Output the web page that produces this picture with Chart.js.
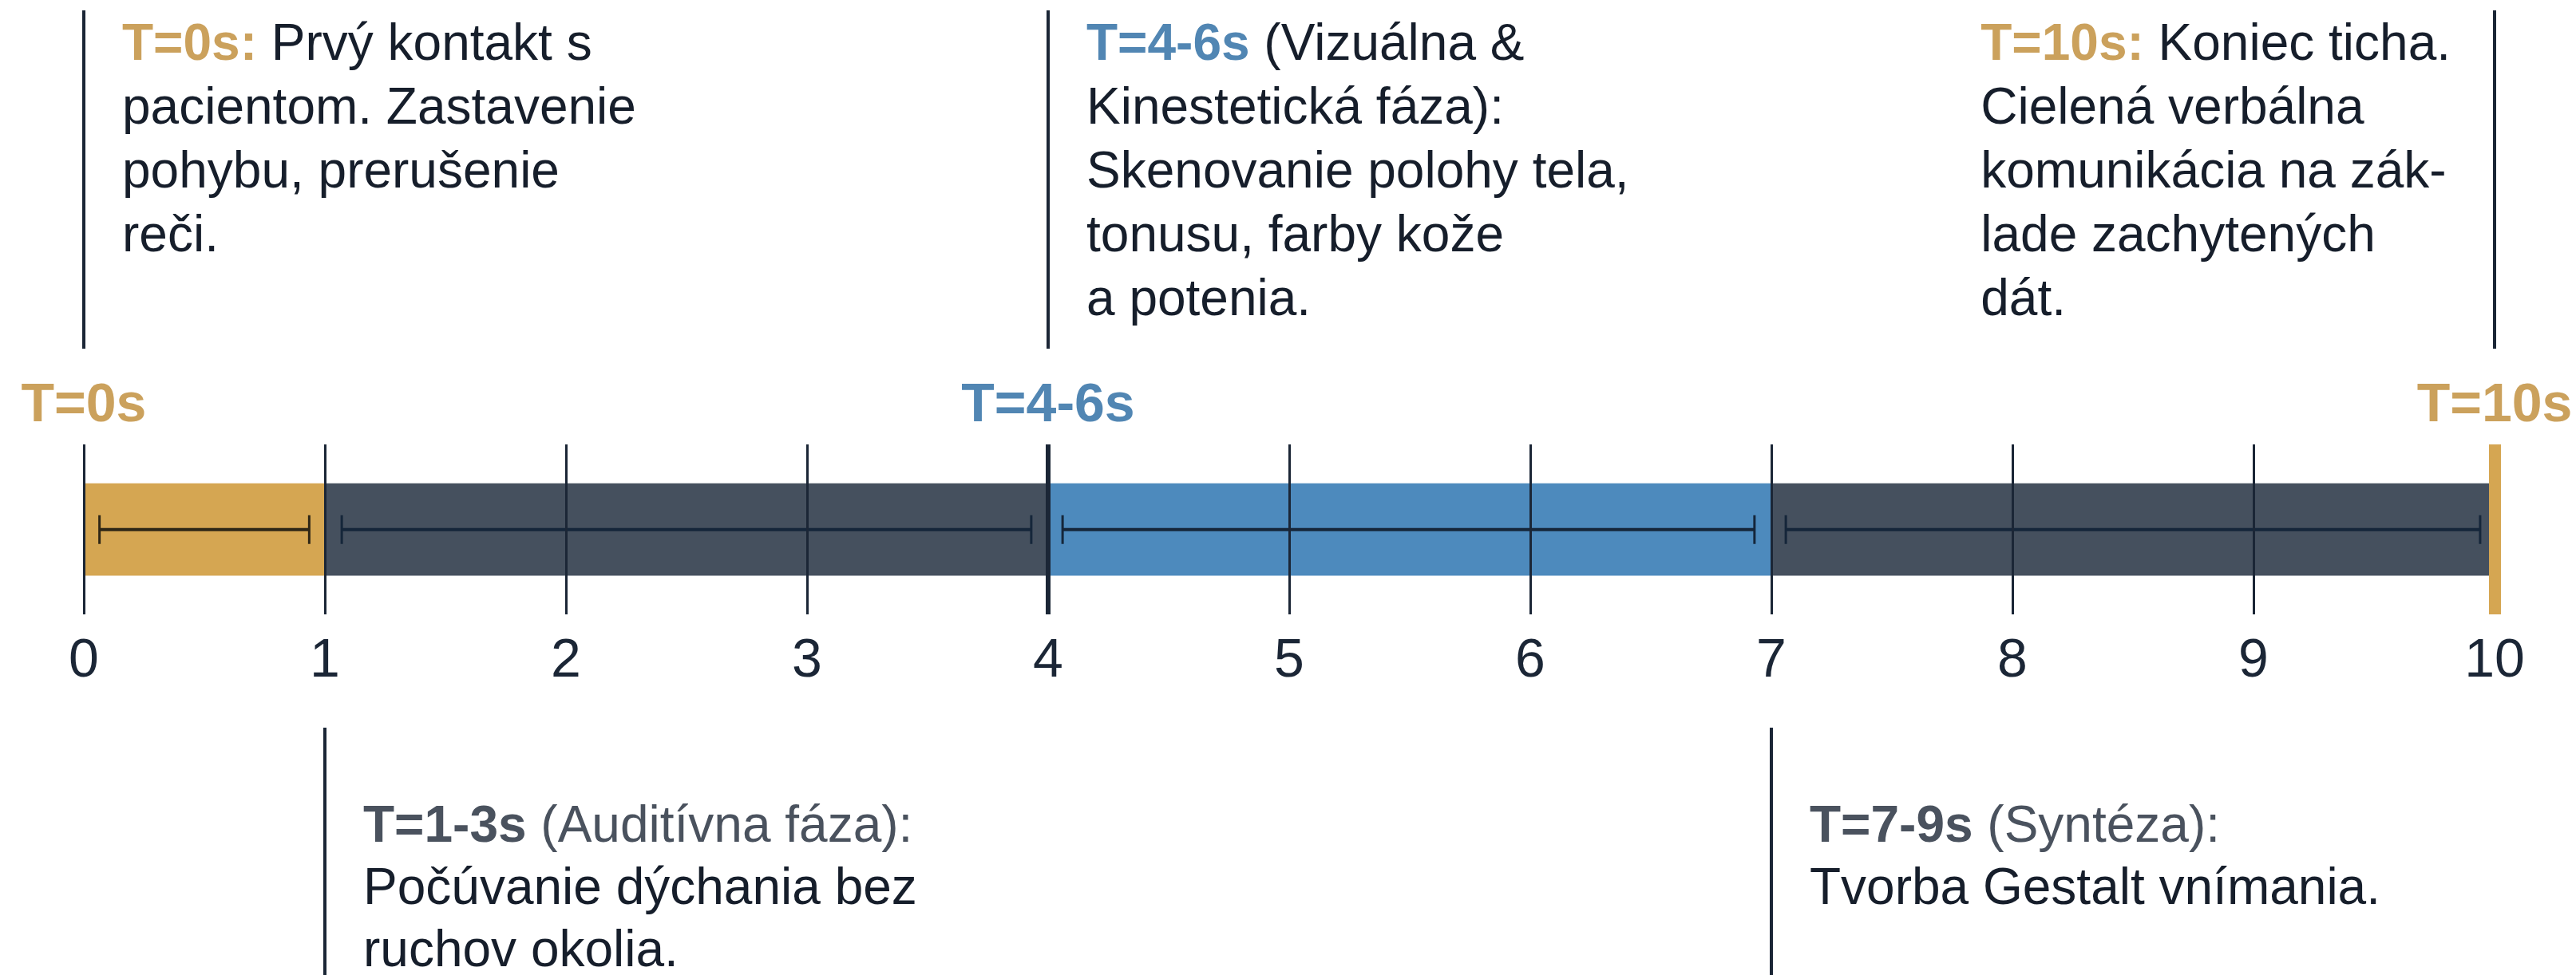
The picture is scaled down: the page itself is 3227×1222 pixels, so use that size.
<!DOCTYPE html>
<html>
<head>
<meta charset="utf-8">
<script src="https://cdn.jsdelivr.net/npm/chart.js@4.4.1/dist/chart.umd.min.js"></script>
<style>
  html, body { margin: 0; padding: 0; background: #ffffff; }
</style>
</head>
<body>
<canvas id="timeline" width="3227" height="1222"></canvas>
<script>
// ---- data ----
const phaseNames = ['T=0s', 'T=1-3s', 'T=4-6s', 'T=7-9s'];
const phaseStart = [0, 1, 4, 7];
const phaseEnd = [1, 4, 7, 10];
// whisker extents inside each phase (seconds)
const rangeStart = [0.065, 1.07, 4.06, 7.06];
const rangeEnd = [0.935, 3.93, 6.93, 9.94];

const tickMin = 0;
const tickMax = 10;

// labels sitting just above the bar
const markerValues = [0, 4, 10];
const markerLabels = ['T=0s', 'T=4-6s', 'T=10s'];

// annotations (top row first, then bottom row)
const noteTimes = [0, 4, 10, 1, 7];
const noteHeads = ['T=0s:', 'T=4-6s', 'T=10s:', 'T=1-3s', 'T=7-9s'];
const noteTails = [' Prvý kontakt s', ' (Vizuálna &', ' Koniec ticha.', ' (Auditívna fáza):', ' (Syntéza):'];
const noteBodies = [
  ['pacientom. Zastavenie', 'pohybu, prerušenie', 'reči.'],
  ['Kinestetická fáza):', 'Skenovanie polohy tela,', 'tonusu, farby kože', 'a potenia.'],
  ['Cielená verbálna', 'komunikácia na zák-', 'lade zachytených', 'dát.'],
  ['Počúvanie dýchania bez', 'ruchov okolia.'],
  ['Tvorba Gestalt vnímania.']
];

// ---- styles ----
const GOLD = '#D5A652';
const GOLD_TEXT = '#CBA15C';
const SLATE = '#45505E';
const BLUE = '#4D8ABD';
const BLUE_TEXT = '#5186B3';
const NAVY = '#1B2636';
const INK = '#161E2B';
const GREY = '#4A525E';
const FONT = "'Liberation Sans', Arial, sans-serif";

const barColors = [GOLD, SLATE, BLUE, SLATE];
const whiskerColors = ['#2E2716', '#15263A', '#15263A', '#15263A'];
const markerColors = [GOLD_TEXT, BLUE_TEXT, GOLD_TEXT];
const noteSide = ['top', 'top', 'top', 'bottom', 'bottom'];
const noteAlign = ['right', 'right', 'left', 'right', 'right']; // which side of the line the text goes
const noteHeadColors = [GOLD_TEXT, BLUE_TEXT, GOLD_TEXT, GREY, GREY];
const noteTailColors = [INK, INK, INK, GREY, GREY];

const ROW = 'faza';

const barSets = phaseStart.map((s, i) => ({
  type: 'bar',
  label: phaseNames[i],
  data: [[s, phaseEnd[i]]],
  backgroundColor: barColors[i],
  barThickness: 115,
  grouped: false,
  order: 2
}));

const whiskerSets = rangeStart.map((s, i) => ({
  type: 'line',
  label: phaseNames[i] + ' rozsah',
  data: [{ x: s, y: ROW }, { x: rangeEnd[i], y: ROW }],
  borderColor: whiskerColors[i],
  borderWidth: 4,
  pointStyle: 'line',
  rotation: 90,
  pointRadius: 18,
  pointBorderWidth: 3,
  pointBorderColor: whiskerColors[i],
  fill: false,
  order: 1
}));

// draws the marker labels, the annotation lines and their text
const notesPlugin = {
  id: 'notes',
  afterDraw(chart) {
    const ctx = chart.ctx;
    const x = chart.scales.x;
    const area = chart.chartArea;
    ctx.save();

    // labels above the bar
    ctx.font = 'bold 68px ' + FONT;
    ctx.textAlign = 'center';
    ctx.textBaseline = 'alphabetic';
    markerValues.forEach((v, i) => {
      ctx.fillStyle = markerColors[i];
      ctx.fillText(markerLabels[i], x.getPixelForValue(v), area.top - 29);
    });

    const bold = 'bold 64px ' + FONT;
    const regular = '64px ' + FONT;
    ctx.textAlign = 'left';

    noteTimes.forEach((t, i) => {
      const px = Math.round(x.getPixelForValue(t));
      const top = noteSide[i] === 'top';
      const y0 = top ? 13 : 912;
      const y1 = top ? 437 : chart.height;
      ctx.strokeStyle = NAVY;
      ctx.lineWidth = 4;
      ctx.beginPath();
      ctx.moveTo(px, y0);
      ctx.lineTo(px, y1);
      ctx.stroke();

      ctx.font = bold;
      const headW = ctx.measureText(noteHeads[i]).width;
      ctx.font = regular;
      let maxW = headW + ctx.measureText(noteTails[i]).width;
      noteBodies[i].forEach(l => { maxW = Math.max(maxW, ctx.measureText(l).width); });

      const left = noteAlign[i] === 'right' ? px + 48 : px - 55 - maxW;
      const base = top ? 75 : 1055;
      const lh = top ? 80 : 78;

      ctx.font = bold;
      ctx.fillStyle = noteHeadColors[i];
      ctx.fillText(noteHeads[i], left, base);
      ctx.font = regular;
      ctx.fillStyle = noteTailColors[i];
      ctx.fillText(noteTails[i], left + headW, base);
      ctx.fillStyle = INK;
      noteBodies[i].forEach((l, k) => ctx.fillText(l, left, base + lh * (k + 1)));
    });
    ctx.restore();
  }
};

new Chart(document.getElementById('timeline'), {
  type: 'bar',
  data: {
    labels: [ROW],
    datasets: [...whiskerSets, ...barSets]
  },
  options: {
    indexAxis: 'y',
    responsive: false,
    animation: false,
    layout: { padding: { left: 105, right: 102, top: 557, bottom: 334 } },
    plugins: {
      legend: { display: false },
      tooltip: { enabled: false }
    },
    scales: {
      x: {
        type: 'linear',
        min: tickMin,
        max: tickMax,
        border: { display: false },
        grid: {
          z: 1, // grid goes over the bars, like in the source
          drawTicks: false,
          color: (c) => c.tick && c.tick.value === tickMax ? GOLD : NAVY,
          lineWidth: (c) => {
            if (!c.tick) return 3;
            if (c.tick.value === tickMax) return 15;
            if (c.tick.value === 4) return 6;
            return 3;
          }
        },
        ticks: {
          stepSize: 1,
          padding: 18,
          color: NAVY,
          font: { family: FONT, size: 68 }
        }
      },
      y: { display: false }
    }
  },
  plugins: [notesPlugin]
});
</script>
</body>
</html>
